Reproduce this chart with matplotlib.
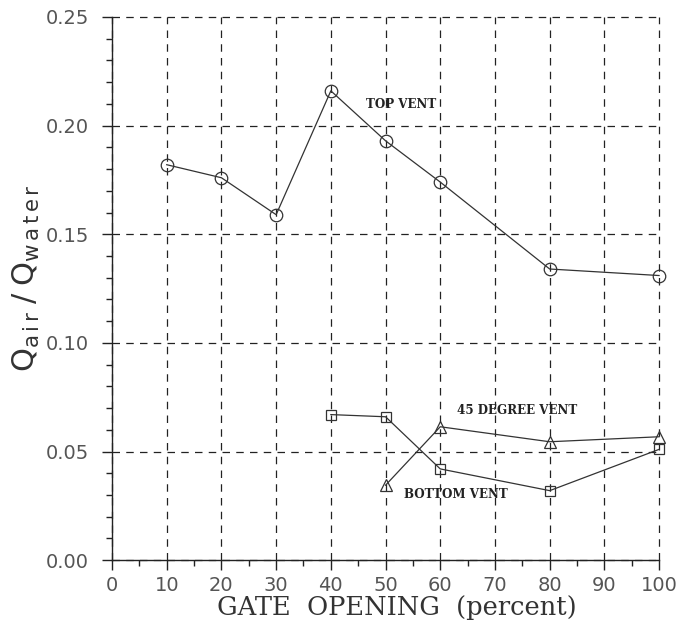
import matplotlib
matplotlib.use("Agg")
from matplotlib import pyplot as plt
from matplotlib.ticker import MultipleLocator, FormatStrFormatter

# data
top_x = [10, 20, 30, 40, 50, 60, 80, 100]
top_y = [0.182, 0.176, 0.159, 0.216, 0.193, 0.174, 0.134, 0.131]

bottom_x = [40, 50, 60, 80, 100]
bottom_y = [0.067, 0.066, 0.042, 0.032, 0.051]

deg45_x = [50, 60, 80, 100]
deg45_y = [0.0345, 0.0614, 0.0545, 0.0568]

fig = plt.figure(figsize=(6.83, 6.28), dpi=100)
ax = fig.add_axes([0.164, 0.108, 0.801, 0.865])

line_col = "#333333"
style = dict(color=line_col, lw=0.9, mfc="none", mec=line_col, mew=0.9, clip_on=False, zorder=3)
ax.plot(top_x, top_y, marker="o", ms=9, **style)
ax.plot(bottom_x, bottom_y, marker="s", ms=7.5, **style)
ax.plot(deg45_x, deg45_y, marker="^", ms=8, **style)

lab = dict(family="DejaVu Serif", fontsize=8.6, fontweight="bold", color="#222222")
ax.text(46.4, 0.2095, "TOP VENT", va="center", **lab)
ax.text(63.0, 0.0690, "45 DEGREE VENT", va="center", **lab)
ax.text(53.3, 0.0304, "BOTTOM VENT", va="center", **lab)

ax.set_xlim(0, 100)
ax.set_ylim(0, 0.25)
ax.xaxis.set_major_locator(MultipleLocator(10))
ax.xaxis.set_minor_locator(MultipleLocator(5))
ax.yaxis.set_major_locator(MultipleLocator(0.05))
ax.yaxis.set_minor_locator(MultipleLocator(0.01))
ax.yaxis.set_major_formatter(FormatStrFormatter("%.2f"))

ax.grid(True, which="major", color="#222222", linestyle=(0, (6, 5)), lw=0.9)
for g in ax.xaxis.get_gridlines() + ax.yaxis.get_gridlines():
    g.set_clip_on(False)
for s in ["top", "right"]:
    ax.spines[s].set_visible(False)
for s in ["left", "bottom"]:
    ax.spines[s].set_color("#222222")
    ax.spines[s].set_linewidth(1.0)

ax.tick_params(which="major", direction="out", length=7.5, width=1.0, color="#222222",
               labelsize=14, labelcolor="#555555")
ax.tick_params(which="minor", direction="out", length=4, width=1.0, color="#222222")
ax.tick_params(axis="x", which="major", pad=3.6)
ax.tick_params(axis="y", which="major", pad=9)

ax.set_xlabel("GATE  OPENING  (percent)", family="DejaVu Serif", fontsize=18.5, color="#333333")
ax.xaxis.set_label_coords(0.521, -0.064)
ax.set_ylabel(r"$\mathregular{Q_{a\,i\,r}\;/\;Q_{w\,a\,t\,e\,r}}$", fontsize=22, color="#333333")
ax.yaxis.set_label_coords(-0.128, 0.52)

fig.savefig("out.png", dpi=100)
